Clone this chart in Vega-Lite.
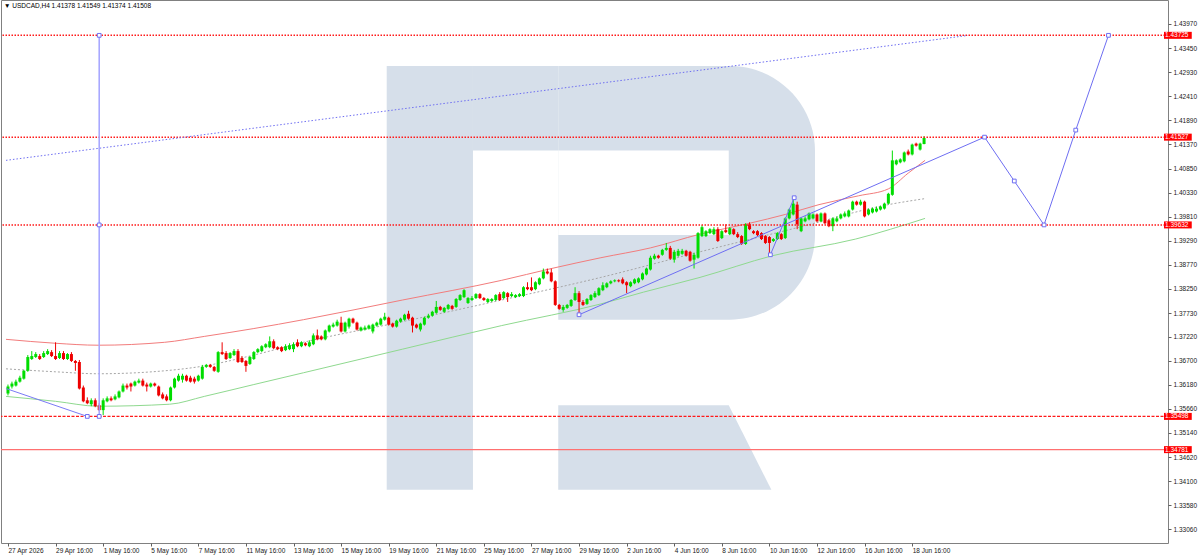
{
  "$schema": "https://vega.github.io/schema/vega-lite/v6.json",
  "autosize": {"type": "fit", "contains": "padding"},
  "width": 1200,
  "height": 555,
  "padding": {"left": 0, "top": 0, "right": 3, "bottom": 1},
  "background": "white",
  "config": {
    "view": {"stroke": "#808080", "strokeWidth": 1},
    "font": "Liberation Sans",
    "axis": {"labelOverlap": false}
  },
  "title": {
    "text": "▼ USDCAD,H4  1.41378 1.41549 1.41374 1.41508",
    "anchor": "start",
    "frame": "group",
    "offset": -9,
    "dx": 3,
    "fontSize": 6.5,
    "fontWeight": "normal",
    "font": "Liberation Sans",
    "color": "#000000"
  },
  "datasets": {
    "candles": [
      {"bar":0,"open":1.35994,"high":1.36186,"low":1.35951,"close":1.36143},
      {"bar":1,"open":1.36143,"high":1.36249,"low":1.36100,"close":1.36207},
      {"bar":2,"open":1.36164,"high":1.36292,"low":1.36143,"close":1.36249},
      {"bar":3,"open":1.36249,"high":1.36376,"low":1.36228,"close":1.36334},
      {"bar":4,"open":1.36313,"high":1.36504,"low":1.36292,"close":1.36483},
      {"bar":5,"open":1.36483,"high":1.36823,"low":1.36461,"close":1.36780},
      {"bar":6,"open":1.36737,"high":1.36908,"low":1.36716,"close":1.36801},
      {"bar":7,"open":1.36780,"high":1.36886,"low":1.36759,"close":1.36844},
      {"bar":8,"open":1.36801,"high":1.36844,"low":1.36716,"close":1.36737},
      {"bar":9,"open":1.36780,"high":1.36908,"low":1.36759,"close":1.36865},
      {"bar":10,"open":1.36844,"high":1.36950,"low":1.36823,"close":1.36908},
      {"bar":11,"open":1.36886,"high":1.36929,"low":1.36780,"close":1.36801},
      {"bar":12,"open":1.36801,"high":1.37098,"low":1.36716,"close":1.36737},
      {"bar":13,"open":1.36759,"high":1.36908,"low":1.36737,"close":1.36865},
      {"bar":14,"open":1.36865,"high":1.36908,"low":1.36716,"close":1.36737},
      {"bar":15,"open":1.36737,"high":1.36865,"low":1.36716,"close":1.36844},
      {"bar":16,"open":1.36844,"high":1.36886,"low":1.36673,"close":1.36695},
      {"bar":17,"open":1.36695,"high":1.36716,"low":1.36483,"close":1.36652},
      {"bar":18,"open":1.36673,"high":1.36716,"low":1.36079,"close":1.36100},
      {"bar":19,"open":1.36122,"high":1.36164,"low":1.35803,"close":1.35824},
      {"bar":20,"open":1.35846,"high":1.35909,"low":1.35761,"close":1.35782},
      {"bar":21,"open":1.35761,"high":1.35888,"low":1.35718,"close":1.35846},
      {"bar":22,"open":1.35846,"high":1.35888,"low":1.35697,"close":1.35718},
      {"bar":23,"open":1.35739,"high":1.35782,"low":1.35612,"close":1.35634},
      {"bar":24,"open":1.35634,"high":1.35888,"low":1.35527,"close":1.35846},
      {"bar":25,"open":1.35824,"high":1.35930,"low":1.35803,"close":1.35888},
      {"bar":26,"open":1.35888,"high":1.35930,"low":1.35824,"close":1.35846},
      {"bar":27,"open":1.35867,"high":1.35973,"low":1.35846,"close":1.35930},
      {"bar":28,"open":1.35909,"high":1.36058,"low":1.35888,"close":1.36036},
      {"bar":29,"open":1.36036,"high":1.36207,"low":1.36015,"close":1.36164},
      {"bar":30,"open":1.36164,"high":1.36207,"low":1.36079,"close":1.36122},
      {"bar":31,"open":1.36207,"high":1.36228,"low":1.36036,"close":1.36143},
      {"bar":32,"open":1.36164,"high":1.36271,"low":1.36143,"close":1.36249},
      {"bar":33,"open":1.36228,"high":1.36313,"low":1.36207,"close":1.36271},
      {"bar":34,"open":1.36271,"high":1.36313,"low":1.36143,"close":1.36164},
      {"bar":35,"open":1.36186,"high":1.36228,"low":1.36036,"close":1.36143},
      {"bar":36,"open":1.36143,"high":1.36228,"low":1.36122,"close":1.36207},
      {"bar":37,"open":1.36207,"high":1.36228,"low":1.36143,"close":1.36164},
      {"bar":38,"open":1.36143,"high":1.36164,"low":1.35930,"close":1.35951},
      {"bar":39,"open":1.35973,"high":1.36015,"low":1.35867,"close":1.35888},
      {"bar":40,"open":1.35930,"high":1.35973,"low":1.35824,"close":1.35846},
      {"bar":41,"open":1.35846,"high":1.36143,"low":1.35824,"close":1.36122},
      {"bar":42,"open":1.36122,"high":1.36334,"low":1.36100,"close":1.36313},
      {"bar":43,"open":1.36271,"high":1.36419,"low":1.36249,"close":1.36376},
      {"bar":44,"open":1.36292,"high":1.36419,"low":1.36228,"close":1.36376},
      {"bar":45,"open":1.36376,"high":1.36398,"low":1.36249,"close":1.36271},
      {"bar":46,"open":1.36334,"high":1.36376,"low":1.36228,"close":1.36249},
      {"bar":47,"open":1.36313,"high":1.36355,"low":1.36207,"close":1.36249},
      {"bar":48,"open":1.36271,"high":1.36398,"low":1.36249,"close":1.36376},
      {"bar":49,"open":1.36313,"high":1.36610,"low":1.36292,"close":1.36567},
      {"bar":50,"open":1.36567,"high":1.36631,"low":1.36546,"close":1.36610},
      {"bar":51,"open":1.36610,"high":1.36631,"low":1.36546,"close":1.36567},
      {"bar":52,"open":1.36567,"high":1.36588,"low":1.36461,"close":1.36483},
      {"bar":53,"open":1.36461,"high":1.36908,"low":1.36440,"close":1.36886},
      {"bar":54,"open":1.36886,"high":1.37098,"low":1.36823,"close":1.36844},
      {"bar":55,"open":1.36865,"high":1.36908,"low":1.36716,"close":1.36737},
      {"bar":56,"open":1.36759,"high":1.36886,"low":1.36737,"close":1.36865},
      {"bar":57,"open":1.36823,"high":1.36950,"low":1.36801,"close":1.36908},
      {"bar":58,"open":1.36908,"high":1.36950,"low":1.36652,"close":1.36673},
      {"bar":59,"open":1.36759,"high":1.36801,"low":1.36652,"close":1.36673},
      {"bar":60,"open":1.36695,"high":1.36716,"low":1.36461,"close":1.36588},
      {"bar":61,"open":1.36631,"high":1.36801,"low":1.36610,"close":1.36780},
      {"bar":62,"open":1.36737,"high":1.36908,"low":1.36716,"close":1.36886},
      {"bar":63,"open":1.36886,"high":1.36971,"low":1.36865,"close":1.36950},
      {"bar":64,"open":1.36908,"high":1.37035,"low":1.36886,"close":1.37013},
      {"bar":65,"open":1.36992,"high":1.37077,"low":1.36971,"close":1.37056},
      {"bar":66,"open":1.36992,"high":1.37225,"low":1.36971,"close":1.37120},
      {"bar":67,"open":1.37120,"high":1.37162,"low":1.36950,"close":1.36971},
      {"bar":68,"open":1.36992,"high":1.37013,"low":1.36929,"close":1.36950},
      {"bar":69,"open":1.36992,"high":1.37013,"low":1.36886,"close":1.36908},
      {"bar":70,"open":1.36929,"high":1.37056,"low":1.36908,"close":1.37013},
      {"bar":71,"open":1.36950,"high":1.37077,"low":1.36929,"close":1.37035},
      {"bar":72,"open":1.36950,"high":1.37098,"low":1.36886,"close":1.37056},
      {"bar":73,"open":1.37098,"high":1.37162,"low":1.36992,"close":1.37013},
      {"bar":74,"open":1.37013,"high":1.37120,"low":1.36992,"close":1.37098},
      {"bar":75,"open":1.37077,"high":1.37098,"low":1.37013,"close":1.37035},
      {"bar":76,"open":1.37013,"high":1.37141,"low":1.36992,"close":1.37098},
      {"bar":77,"open":1.37056,"high":1.37289,"low":1.37035,"close":1.37247},
      {"bar":78,"open":1.37247,"high":1.37374,"low":1.37141,"close":1.37162},
      {"bar":79,"open":1.37225,"high":1.37247,"low":1.37141,"close":1.37162},
      {"bar":80,"open":1.37162,"high":1.37374,"low":1.37141,"close":1.37353},
      {"bar":81,"open":1.37332,"high":1.37480,"low":1.37310,"close":1.37459},
      {"bar":82,"open":1.37437,"high":1.37522,"low":1.37416,"close":1.37480},
      {"bar":83,"open":1.37459,"high":1.37586,"low":1.37437,"close":1.37544},
      {"bar":84,"open":1.37522,"high":1.37650,"low":1.37310,"close":1.37332},
      {"bar":85,"open":1.37332,"high":1.37544,"low":1.37310,"close":1.37522},
      {"bar":86,"open":1.37437,"high":1.37629,"low":1.37395,"close":1.37608},
      {"bar":87,"open":1.37608,"high":1.37629,"low":1.37501,"close":1.37522},
      {"bar":88,"open":1.37522,"high":1.37544,"low":1.37353,"close":1.37374},
      {"bar":89,"open":1.37353,"high":1.37437,"low":1.37332,"close":1.37416},
      {"bar":90,"open":1.37374,"high":1.37459,"low":1.37353,"close":1.37416},
      {"bar":91,"open":1.37395,"high":1.37480,"low":1.37374,"close":1.37459},
      {"bar":92,"open":1.37332,"high":1.37501,"low":1.37289,"close":1.37480},
      {"bar":93,"open":1.37459,"high":1.37544,"low":1.37437,"close":1.37522},
      {"bar":94,"open":1.37480,"high":1.37629,"low":1.37459,"close":1.37608},
      {"bar":95,"open":1.37586,"high":1.37735,"low":1.37565,"close":1.37650},
      {"bar":96,"open":1.37629,"high":1.37650,"low":1.37459,"close":1.37480},
      {"bar":97,"open":1.37501,"high":1.37522,"low":1.37416,"close":1.37437},
      {"bar":98,"open":1.37437,"high":1.37586,"low":1.37416,"close":1.37565},
      {"bar":99,"open":1.37544,"high":1.37629,"low":1.37522,"close":1.37608},
      {"bar":100,"open":1.37586,"high":1.37714,"low":1.37565,"close":1.37693},
      {"bar":101,"open":1.37714,"high":1.37778,"low":1.37586,"close":1.37608},
      {"bar":102,"open":1.37629,"high":1.37650,"low":1.37310,"close":1.37459},
      {"bar":103,"open":1.37480,"high":1.37501,"low":1.37395,"close":1.37416},
      {"bar":104,"open":1.37374,"high":1.37522,"low":1.37332,"close":1.37501},
      {"bar":105,"open":1.37480,"high":1.37650,"low":1.37459,"close":1.37629},
      {"bar":106,"open":1.37629,"high":1.37714,"low":1.37608,"close":1.37672},
      {"bar":107,"open":1.37672,"high":1.37778,"low":1.37650,"close":1.37757},
      {"bar":108,"open":1.37735,"high":1.37990,"low":1.37714,"close":1.37862},
      {"bar":109,"open":1.37862,"high":1.37884,"low":1.37778,"close":1.37799},
      {"bar":110,"open":1.37757,"high":1.37862,"low":1.37735,"close":1.37841},
      {"bar":111,"open":1.37820,"high":1.37926,"low":1.37799,"close":1.37905},
      {"bar":112,"open":1.37884,"high":1.37905,"low":1.37799,"close":1.37820},
      {"bar":113,"open":1.37862,"high":1.38053,"low":1.37841,"close":1.38032},
      {"bar":114,"open":1.38011,"high":1.38138,"low":1.37990,"close":1.38117},
      {"bar":115,"open":1.38074,"high":1.38245,"low":1.38053,"close":1.38223},
      {"bar":116,"open":1.37947,"high":1.38074,"low":1.37926,"close":1.38053},
      {"bar":117,"open":1.38011,"high":1.38096,"low":1.37990,"close":1.38053},
      {"bar":118,"open":1.38053,"high":1.38159,"low":1.38032,"close":1.38138},
      {"bar":119,"open":1.38138,"high":1.38159,"low":1.38032,"close":1.38053},
      {"bar":120,"open":1.38053,"high":1.38074,"low":1.37990,"close":1.38011},
      {"bar":121,"open":1.37969,"high":1.38053,"low":1.37947,"close":1.38032},
      {"bar":122,"open":1.37990,"high":1.38053,"low":1.37969,"close":1.38032},
      {"bar":123,"open":1.38011,"high":1.38138,"low":1.37990,"close":1.38117},
      {"bar":124,"open":1.38138,"high":1.38181,"low":1.37990,"close":1.38011},
      {"bar":125,"open":1.38053,"high":1.38202,"low":1.38032,"close":1.38181},
      {"bar":126,"open":1.38159,"high":1.38181,"low":1.37969,"close":1.38074},
      {"bar":127,"open":1.38096,"high":1.38181,"low":1.38074,"close":1.38138},
      {"bar":128,"open":1.38074,"high":1.38138,"low":1.38053,"close":1.38117},
      {"bar":129,"open":1.38096,"high":1.38159,"low":1.38074,"close":1.38138},
      {"bar":130,"open":1.38096,"high":1.38309,"low":1.38074,"close":1.38287},
      {"bar":131,"open":1.38287,"high":1.38394,"low":1.38223,"close":1.38245},
      {"bar":132,"open":1.38287,"high":1.38499,"low":1.38202,"close":1.38223},
      {"bar":133,"open":1.38245,"high":1.38415,"low":1.38223,"close":1.38394},
      {"bar":134,"open":1.38351,"high":1.38499,"low":1.38330,"close":1.38478},
      {"bar":135,"open":1.38478,"high":1.38690,"low":1.38457,"close":1.38627},
      {"bar":136,"open":1.38627,"high":1.38690,"low":1.38563,"close":1.38584},
      {"bar":137,"open":1.38606,"high":1.38690,"low":1.38394,"close":1.38415},
      {"bar":138,"open":1.38415,"high":1.38436,"low":1.37884,"close":1.37905},
      {"bar":139,"open":1.37905,"high":1.37926,"low":1.37799,"close":1.37820},
      {"bar":140,"open":1.37799,"high":1.37905,"low":1.37757,"close":1.37862},
      {"bar":141,"open":1.37841,"high":1.37926,"low":1.37820,"close":1.37905},
      {"bar":142,"open":1.37884,"high":1.38032,"low":1.37862,"close":1.38011},
      {"bar":143,"open":1.38011,"high":1.38287,"low":1.37990,"close":1.38159},
      {"bar":144,"open":1.38159,"high":1.38202,"low":1.37693,"close":1.37969},
      {"bar":145,"open":1.37969,"high":1.38011,"low":1.37884,"close":1.37905},
      {"bar":146,"open":1.37926,"high":1.38053,"low":1.37905,"close":1.38032},
      {"bar":147,"open":1.38011,"high":1.38138,"low":1.37990,"close":1.38117},
      {"bar":148,"open":1.38074,"high":1.38202,"low":1.38053,"close":1.38159},
      {"bar":149,"open":1.38117,"high":1.38287,"low":1.38096,"close":1.38266},
      {"bar":150,"open":1.38223,"high":1.38394,"low":1.38202,"close":1.38330},
      {"bar":151,"open":1.38287,"high":1.38394,"low":1.38266,"close":1.38372},
      {"bar":152,"open":1.38372,"high":1.38436,"low":1.38351,"close":1.38415},
      {"bar":153,"open":1.38415,"high":1.38457,"low":1.38394,"close":1.38436},
      {"bar":154,"open":1.38436,"high":1.38457,"low":1.38394,"close":1.38415},
      {"bar":155,"open":1.38457,"high":1.38499,"low":1.38351,"close":1.38372},
      {"bar":156,"open":1.38394,"high":1.38415,"low":1.38159,"close":1.38330},
      {"bar":157,"open":1.38309,"high":1.38415,"low":1.38287,"close":1.38394},
      {"bar":158,"open":1.38372,"high":1.38478,"low":1.38351,"close":1.38457},
      {"bar":159,"open":1.38394,"high":1.38499,"low":1.38372,"close":1.38478},
      {"bar":160,"open":1.38457,"high":1.38606,"low":1.38436,"close":1.38584},
      {"bar":161,"open":1.38563,"high":1.38711,"low":1.38542,"close":1.38690},
      {"bar":162,"open":1.38669,"high":1.38967,"low":1.38648,"close":1.38924},
      {"bar":163,"open":1.38903,"high":1.39009,"low":1.38882,"close":1.38967},
      {"bar":164,"open":1.38967,"high":1.38988,"low":1.38903,"close":1.38924},
      {"bar":165,"open":1.38988,"high":1.39115,"low":1.38967,"close":1.39094},
      {"bar":166,"open":1.39094,"high":1.39243,"low":1.39073,"close":1.39136},
      {"bar":167,"open":1.39136,"high":1.39179,"low":1.38882,"close":1.38903},
      {"bar":168,"open":1.38882,"high":1.39094,"low":1.38818,"close":1.39052},
      {"bar":169,"open":1.38967,"high":1.39115,"low":1.38946,"close":1.39073},
      {"bar":170,"open":1.39009,"high":1.39115,"low":1.38988,"close":1.39073},
      {"bar":171,"open":1.39073,"high":1.39094,"low":1.38946,"close":1.38967},
      {"bar":172,"open":1.39052,"high":1.39073,"low":1.38839,"close":1.38860},
      {"bar":173,"open":1.38882,"high":1.39031,"low":1.38690,"close":1.38988},
      {"bar":174,"open":1.38924,"high":1.39476,"low":1.38903,"close":1.39455},
      {"bar":175,"open":1.39391,"high":1.39625,"low":1.39370,"close":1.39583},
      {"bar":176,"open":1.39391,"high":1.39519,"low":1.39370,"close":1.39497},
      {"bar":177,"open":1.39455,"high":1.39561,"low":1.39433,"close":1.39540},
      {"bar":178,"open":1.39433,"high":1.39583,"low":1.39412,"close":1.39540},
      {"bar":179,"open":1.39540,"high":1.39583,"low":1.39264,"close":1.39285},
      {"bar":180,"open":1.39348,"high":1.39519,"low":1.39327,"close":1.39497},
      {"bar":181,"open":1.39519,"high":1.39646,"low":1.39455,"close":1.39476},
      {"bar":182,"open":1.39433,"high":1.39583,"low":1.39412,"close":1.39561},
      {"bar":183,"open":1.39540,"high":1.39561,"low":1.39412,"close":1.39433},
      {"bar":184,"open":1.39433,"high":1.39476,"low":1.39348,"close":1.39370},
      {"bar":185,"open":1.39391,"high":1.39412,"low":1.39200,"close":1.39221},
      {"bar":186,"open":1.39221,"high":1.39668,"low":1.39200,"close":1.39646},
      {"bar":187,"open":1.39646,"high":1.39689,"low":1.39519,"close":1.39540},
      {"bar":188,"open":1.39497,"high":1.39519,"low":1.39433,"close":1.39455},
      {"bar":189,"open":1.39497,"high":1.39519,"low":1.39391,"close":1.39412},
      {"bar":190,"open":1.39455,"high":1.39476,"low":1.39306,"close":1.39327},
      {"bar":191,"open":1.39391,"high":1.39412,"low":1.39221,"close":1.39243},
      {"bar":192,"open":1.39370,"high":1.39391,"low":1.38988,"close":1.39243},
      {"bar":193,"open":1.39285,"high":1.39348,"low":1.39264,"close":1.39327},
      {"bar":194,"open":1.39327,"high":1.39476,"low":1.39306,"close":1.39455},
      {"bar":195,"open":1.39433,"high":1.39455,"low":1.39306,"close":1.39327},
      {"bar":196,"open":1.39348,"high":1.39795,"low":1.39327,"close":1.39773},
      {"bar":197,"open":1.39773,"high":1.39985,"low":1.39752,"close":1.39964},
      {"bar":198,"open":1.39858,"high":1.40197,"low":1.39837,"close":1.40092},
      {"bar":199,"open":1.40070,"high":1.40134,"low":1.39540,"close":1.39646},
      {"bar":200,"open":1.39497,"high":1.39795,"low":1.39476,"close":1.39773},
      {"bar":201,"open":1.39710,"high":1.39816,"low":1.39689,"close":1.39773},
      {"bar":202,"open":1.39752,"high":1.39901,"low":1.39731,"close":1.39880},
      {"bar":203,"open":1.39773,"high":1.39880,"low":1.39752,"close":1.39858},
      {"bar":204,"open":1.39858,"high":1.39880,"low":1.39689,"close":1.39710},
      {"bar":205,"open":1.39710,"high":1.39901,"low":1.39689,"close":1.39880},
      {"bar":206,"open":1.39880,"high":1.39901,"low":1.39646,"close":1.39668},
      {"bar":207,"open":1.39731,"high":1.39752,"low":1.39583,"close":1.39604},
      {"bar":208,"open":1.39604,"high":1.39795,"low":1.39497,"close":1.39773},
      {"bar":209,"open":1.39710,"high":1.39816,"low":1.39689,"close":1.39773},
      {"bar":210,"open":1.39773,"high":1.39880,"low":1.39752,"close":1.39858},
      {"bar":211,"open":1.39816,"high":1.39922,"low":1.39795,"close":1.39880},
      {"bar":212,"open":1.39816,"high":1.39964,"low":1.39795,"close":1.39943},
      {"bar":213,"open":1.39964,"high":1.40155,"low":1.39943,"close":1.40134},
      {"bar":214,"open":1.40134,"high":1.40155,"low":1.40049,"close":1.40070},
      {"bar":215,"open":1.40070,"high":1.40176,"low":1.40049,"close":1.40134},
      {"bar":216,"open":1.40134,"high":1.40155,"low":1.39795,"close":1.39816},
      {"bar":217,"open":1.39858,"high":1.39985,"low":1.39837,"close":1.39964},
      {"bar":218,"open":1.39901,"high":1.40007,"low":1.39880,"close":1.39985},
      {"bar":219,"open":1.39922,"high":1.40028,"low":1.39901,"close":1.39985},
      {"bar":220,"open":1.39964,"high":1.40049,"low":1.39943,"close":1.40028},
      {"bar":221,"open":1.39985,"high":1.40113,"low":1.39964,"close":1.40092},
      {"bar":222,"open":1.40092,"high":1.40325,"low":1.40070,"close":1.40304},
      {"bar":223,"open":1.40282,"high":1.41238,"low":1.40261,"close":1.41026},
      {"bar":224,"open":1.40941,"high":1.41047,"low":1.40919,"close":1.41026},
      {"bar":225,"open":1.40983,"high":1.41069,"low":1.40962,"close":1.41047},
      {"bar":226,"open":1.41005,"high":1.41217,"low":1.40983,"close":1.41196},
      {"bar":227,"open":1.41217,"high":1.41259,"low":1.41132,"close":1.41154},
      {"bar":228,"open":1.41154,"high":1.41387,"low":1.41132,"close":1.41366},
      {"bar":229,"open":1.41387,"high":1.41408,"low":1.41323,"close":1.41344},
      {"bar":230,"open":1.41259,"high":1.41408,"low":1.41238,"close":1.41387},
      {"bar":231,"open":1.41378,"high":1.41549,"low":1.41374,"close":1.41508}
    ],
    "upper": [
      {"bar":-0.5,"price":1.37162},{"bar":12,"price":1.37077},{"bar":22.75,"price":1.37035},
      {"bar":39.5,"price":1.37098},{"bar":49.5,"price":1.37225},{"bar":62,"price":1.37395},
      {"bar":74.5,"price":1.37586},{"bar":99.5,"price":1.38011},{"bar":124.5,"price":1.38436},
      {"bar":137,"price":1.38690},{"bar":149.5,"price":1.38924},{"bar":162,"price":1.39136},
      {"bar":174.5,"price":1.39433},{"bar":187,"price":1.39668},{"bar":196,"price":1.39858},
      {"bar":204.5,"price":1.40070},{"bar":214.5,"price":1.40261},{"bar":222,"price":1.40410},
      {"bar":227,"price":1.40750},{"bar":231.25,"price":1.41026}
    ],
    "middle": [
      {"bar":-0.5,"price":1.36525},{"bar":12,"price":1.36461},{"bar":22.75,"price":1.36419},
      {"bar":39.5,"price":1.36483},{"bar":49.5,"price":1.36588},{"bar":62,"price":1.36823},
      {"bar":74.5,"price":1.37098},{"bar":99.5,"price":1.37544},{"bar":124.5,"price":1.38011},
      {"bar":149.5,"price":1.38499},{"bar":174.5,"price":1.39052},{"bar":199.5,"price":1.39583},
      {"bar":222,"price":1.40070},{"bar":231,"price":1.40197}
    ],
    "lower": [
      {"bar":-0.5,"price":1.35930},{"bar":12,"price":1.35824},{"bar":22.75,"price":1.35718},
      {"bar":40.75,"price":1.35761},{"bar":49.5,"price":1.35930},{"bar":62,"price":1.36186},
      {"bar":74.5,"price":1.36440},{"bar":99.5,"price":1.36950},{"bar":124.5,"price":1.37459},
      {"bar":149.5,"price":1.37926},{"bar":160.25,"price":1.38181},{"bar":174.5,"price":1.38499},
      {"bar":192.75,"price":1.38967},{"bar":213.75,"price":1.39327},{"bar":231.25,"price":1.39773}
    ],
    "levels": [
      {"price":1.43725},{"price":1.41527},{"price":1.39632},{"price":1.35498},{"price":1.34781}
    ],
    "forecast": [
      {"bar":144,"price":1.37693},{"bar":246.25,"price":1.41527},{"bar":253.75,"price":1.40580},
      {"bar":261.25,"price":1.39632},{"bar":269.25,"price":1.41679},{"bar":277.5,"price":1.43725}
    ],
    "nodes": [
      {"bar":23,"price":1.43725},{"bar":23,"price":1.39632},{"bar":23,"price":1.35498},
      {"bar":20,"price":1.35498},
      {"bar":192.25,"price":1.38988},{"bar":198.25,"price":1.40219},
      {"bar":144,"price":1.37693},{"bar":246.25,"price":1.41527},{"bar":253.75,"price":1.40580},
      {"bar":261.25,"price":1.39632},{"bar":269.25,"price":1.41679},{"bar":277.5,"price":1.43725}
    ]
  },
  "layer": [
    {
      "data": {"values": [{}]},
      "mark": {"type": "rect", "color": "#d6dfea"},
      "encoding": {
        "x": {"datum": 95.5, "type": "quantitative"}, "x2": {"datum": 117.25},
        "y": {"datum": 1.43064, "type": "quantitative"}, "y2": {"datum": 1.33914}
      }
    },
    {
      "data": {"values": [{}]},
      "mark": {"type": "rect", "color": "#d6dfea"},
      "encoding": {
        "x": {"datum": 117.25, "type": "quantitative"}, "x2": {"datum": 138.75},
        "y": {"datum": 1.43064, "type": "quantitative"}, "y2": {"datum": 1.41238}
      }
    },
    {
      "data": {"values": [{}]},
      "mark": {"type": "rect", "color": "#d6dfea", "cornerRadiusTopRight": 85, "cornerRadiusBottomRight": 85},
      "encoding": {
        "x": {"datum": 138.75, "type": "quantitative"}, "x2": {"datum": 203.5},
        "y": {"datum": 1.43064, "type": "quantitative"}, "y2": {"datum": 1.37586}
      }
    },
    {
      "data": {"values": [{}]},
      "mark": {"type": "rect", "color": "#ffffff"},
      "encoding": {
        "x": {"datum": 138.75, "type": "quantitative"}, "x2": {"datum": 181.75},
        "y": {"datum": 1.41238, "type": "quantitative"}, "y2": {"datum": 1.39412}
      }
    },
    {
      "data": {"values": [
        {"bar":138.75,"price":1.35739},{"bar":181.75,"price":1.35739},{"bar":192.5,"price":1.33914}
      ]},
      "mark": {"type": "area", "color": "#d6dfea", "opacity": 1},
      "encoding": {
        "x": {"field": "bar", "type": "quantitative"},
        "y": {"field": "price", "type": "quantitative"},
        "y2": {"datum": 1.33914}
      }
    },
    {
      "data": {"name": "upper"},
      "mark": {"type": "line", "color": "#f27c7c", "strokeWidth": 1, "interpolate": "monotone"},
      "encoding": {
        "x": {"field": "bar", "type": "quantitative"},
        "y": {"field": "price", "type": "quantitative"}
      }
    },
    {
      "data": {"name": "middle"},
      "mark": {"type": "line", "color": "#a6a6a6", "strokeWidth": 1, "strokeDash": [2, 2], "interpolate": "monotone"},
      "encoding": {
        "x": {"field": "bar", "type": "quantitative"},
        "y": {"field": "price", "type": "quantitative"}
      }
    },
    {
      "data": {"name": "lower"},
      "mark": {"type": "line", "color": "#8fd98f", "strokeWidth": 1, "interpolate": "monotone"},
      "encoding": {
        "x": {"field": "bar", "type": "quantitative"},
        "y": {"field": "price", "type": "quantitative"}
      }
    },
    {
      "data": {"name": "candles"},
      "mark": {"type": "rule", "strokeWidth": 1},
      "encoding": {
        "x": {
          "field": "bar", "type": "quantitative",
          "scale": {"domain": [-0.5, 291.25], "nice": false, "zero": false},
          "axis": {
            "title": null, "grid": false, "domain": false, "tickCount": 40,
            "values": [0, 12, 24, 36, 48, 60, 72, 84, 96, 108, 120, 132, 144, 156, 168, 180, 192, 204, 216, 228],
            "labelExpr": "['27 Apr 2026','29 Apr 16:00','1 May 16:00','5 May 16:00','7 May 16:00','11 May 16:00','13 May 16:00','15 May 16:00','19 May 16:00','21 May 16:00','25 May 16:00','27 May 16:00','29 May 16:00','2 Jun 16:00','4 Jun 16:00','8 Jun 16:00','10 Jun 16:00','12 Jun 16:00','16 Jun 16:00','18 Jun 16:00'][round(datum.value / 12)]",
            "labelAlign": "left", "labelFontSize": 6.5, "labelFont": "Liberation Sans", "labelColor": "#202020",
            "labelPadding": 1, "labelOverlap": false, "labelFlush": false, "labelBound": false,
            "tickSize": 3, "tickColor": "#606060"
          }
        },
        "y": {
          "field": "low", "type": "quantitative",
          "scale": {"domain": [1.32873, 1.4438], "nice": false, "zero": false},
          "axis": {
            "orient": "right", "title": null, "grid": false, "domain": false, "tickCount": 40,
            "values": [1.3306, 1.3358, 1.341, 1.3462, 1.3514, 1.3566, 1.3618, 1.367, 1.3722, 1.3773, 1.3825, 1.3877, 1.3929, 1.3981, 1.4033, 1.4085, 1.4137, 1.4189, 1.4241, 1.4293, 1.4345, 1.4397],
            "format": ".5f", "labelFontSize": 6.5, "labelFont": "Liberation Sans", "labelColor": "#202020",
            "labelPadding": 2, "labelOverlap": false, "labelBound": false,
            "tickSize": 3, "tickColor": "#606060"
          }
        },
        "y2": {"field": "high"},
        "color": {"condition": {"test": "datum.close >= datum.open", "value": "#00dd00"}, "value": "#ee0000"}
      }
    },
    {
      "data": {"name": "candles"},
      "mark": {"type": "bar", "size": 3},
      "encoding": {
        "x": {"field": "bar", "type": "quantitative"},
        "y": {"field": "open", "type": "quantitative"},
        "y2": {"field": "close"},
        "color": {"condition": {"test": "datum.close >= datum.open", "value": "#00dd00"}, "value": "#ee0000"}
      }
    },
    {
      "data": {"name": "levels"},
      "transform": [{"filter": "datum.price > 1.39"}],
      "mark": {"type": "rule", "color": "#ff1a1a", "strokeWidth": 1.5, "strokeDash": [1.5, 1.5]},
      "encoding": {"y": {"field": "price", "type": "quantitative"}}
    },
    {
      "data": {"name": "levels"},
      "transform": [{"filter": "datum.price > 1.35 && datum.price < 1.36"}],
      "mark": {"type": "rule", "color": "#ff1a1a", "strokeWidth": 1.2, "strokeDash": [3, 1.5]},
      "encoding": {"y": {"field": "price", "type": "quantitative"}}
    },
    {
      "data": {"name": "levels"},
      "transform": [{"filter": "datum.price < 1.35"}],
      "mark": {"type": "rule", "color": "#ff7070", "strokeWidth": 1.2},
      "encoding": {"y": {"field": "price", "type": "quantitative"}}
    },
    {
      "data": {"values": [{"bar":-0.5,"price":1.41026},{"bar":242,"price":1.43722}]},
      "mark": {"type": "line", "color": "#6e6ef2", "strokeWidth": 1, "strokeDash": [1.5, 2]},
      "encoding": {
        "x": {"field": "bar", "type": "quantitative"},
        "y": {"field": "price", "type": "quantitative"}
      }
    },
    {
      "data": {"values": [{"bar":23,"price":1.43725},{"bar":23,"price":1.35498}]},
      "mark": {"type": "rule", "color": "#a3a3ff", "strokeWidth": 1.5},
      "encoding": {
        "x": {"field": "bar", "type": "quantitative", "aggregate": "min"},
        "y": {"field": "price", "type": "quantitative", "aggregate": "max"},
        "y2": {"field": "price", "aggregate": "min"}
      }
    },
    {
      "data": {"values": [{"bar":-0.5,"price":1.36100},{"bar":20,"price":1.35498}]},
      "mark": {"type": "line", "color": "#7a7af5", "strokeWidth": 1},
      "encoding": {
        "x": {"field": "bar", "type": "quantitative"},
        "y": {"field": "price", "type": "quantitative"}
      }
    },
    {
      "data": {"values": [{"bar":192.25,"price":1.38988},{"bar":198.25,"price":1.40219}]},
      "mark": {"type": "line", "color": "#6e6ef2", "strokeWidth": 1},
      "encoding": {
        "x": {"field": "bar", "type": "quantitative"},
        "y": {"field": "price", "type": "quantitative"}
      }
    },
    {
      "data": {"name": "forecast"},
      "mark": {"type": "line", "color": "#6e6ef2", "strokeWidth": 1},
      "encoding": {
        "x": {"field": "bar", "type": "quantitative"},
        "y": {"field": "price", "type": "quantitative"}
      }
    },
    {
      "data": {"name": "nodes"},
      "mark": {"type": "point", "shape": "square", "size": 14, "filled": true, "fill": "#ffffff", "stroke": "#6e6ef2", "strokeWidth": 1, "opacity": 1},
      "encoding": {
        "x": {"field": "bar", "type": "quantitative"},
        "y": {"field": "price", "type": "quantitative"}
      }
    },
    {
      "data": {"name": "levels"},
      "mark": {"type": "bar", "orient": "horizontal", "size": 7, "color": "#ff0000"},
      "encoding": {
        "x": {"datum": 291.5, "type": "quantitative"},
        "x2": {"datum": 298.5},
        "y": {"field": "price", "type": "quantitative"}
      }
    },
    {
      "data": {"name": "levels"},
      "mark": {"type": "text", "align": "left", "baseline": "middle", "dx": 1, "fontSize": 6.5, "font": "Liberation Sans", "color": "#ffffff"},
      "encoding": {
        "x": {"datum": 291.5, "type": "quantitative"},
        "y": {"field": "price", "type": "quantitative"},
        "text": {"field": "price", "type": "quantitative", "format": ".5f"}
      }
    }
  ]
}
